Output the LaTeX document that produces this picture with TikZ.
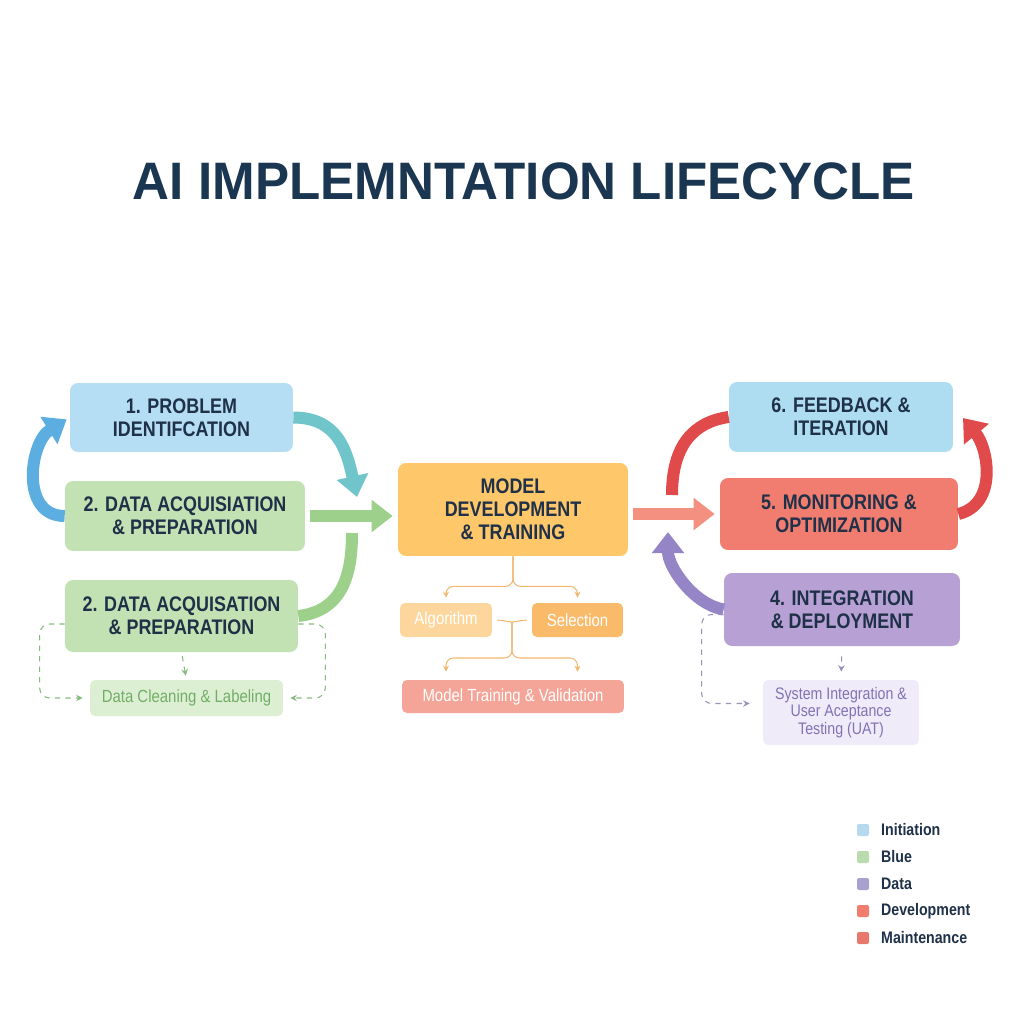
\documentclass[tikz,border=0pt]{standalone}
\usepackage{fontspec}
\setmainfont{Liberation Sans}
\newfontfamily\boxfont{Liberation Sans}[FakeStretch=0.85]
\newfontfamily\titlefont{Liberation Sans}[FakeStretch=0.97]
\usetikzlibrary{arrows.meta,calc}
\definecolor{LifeNavy}{HTML}{1B3651}
\definecolor{LifeText}{HTML}{1F3148}
\definecolor{LifeBlueBox}{HTML}{B5DDF3}
\definecolor{LifeGreenBox}{HTML}{C2E2B3}
\definecolor{LifeGreenSoft}{HTML}{DCEFD3}
\definecolor{LifeGreenText}{HTML}{72AE68}
\definecolor{LifeOrangeBox}{HTML}{FDC76A}
\definecolor{LifeAlgoBox}{HTML}{FCD69C}
\definecolor{LifeSelectBox}{HTML}{F9BA6A}
\definecolor{LifeTrainBox}{HTML}{F5A597}
\definecolor{LifeOrangeLine}{HTML}{F2B870}
\definecolor{LifeFeedbackBox}{HTML}{AEDDF1}
\definecolor{LifeRedBox}{HTML}{F07D70}
\definecolor{LifePurpleBox}{HTML}{B7A0D4}
\definecolor{LifePurpleSoft}{HTML}{EFEBF8}
\definecolor{LifePurpleText}{HTML}{8272B4}
\definecolor{LifeBlueArrow}{HTML}{5CAEE0}
\definecolor{LifeTealArrow}{HTML}{6FC5C9}
\definecolor{LifeGreenArrow}{HTML}{9DD08A}
\definecolor{LifeSalmonArrow}{HTML}{F3907F}
\definecolor{LifeRedArrow}{HTML}{E04A4B}
\definecolor{LifePurpleArrow}{HTML}{9585C7}
\definecolor{LifeGreenDash}{HTML}{88BB80}
\definecolor{LifePurpleDash}{HTML}{9A90B8}
\definecolor{LegInit}{HTML}{B7D9F0}
\definecolor{LegBlue}{HTML}{B9DBAE}
\definecolor{LegData}{HTML}{AAA0D0}
\definecolor{LegDev}{HTML}{F07D6E}
\definecolor{LegMaint}{HTML}{E8786C}

\begin{document}
\begin{tikzpicture}[x=0.02cm, y=-0.02cm,
        stage/.style={rounded corners=1.6mm, align=center, text=LifeText, inner sep=0pt,
                      font=\boxfont\bfseries\fontsize{12}{13}\selectfont},
        detail/.style={rounded corners=1mm, align=center, inner sep=0pt,
                       font=\boxfont\fontsize{10}{11}\selectfont},
        bigarrow/.style={line width=0.24cm, -{Triangle[length=0.42cm,width=0.62cm]}},
        bigline/.style={line width=0.24cm},
        dashflow/.style={dashed, line width=0.6pt, rounded corners=2mm, -{Stealth[length=1.3mm,width=1.3mm]}},
        treelink/.style={LifeOrangeLine, line width=0.6pt, rounded corners=1.5mm, -{Stealth[length=1.2mm,width=1.2mm]}},
        legendbox/.style={minimum size=0.24cm, inner sep=0pt, rounded corners=0.4mm},
        legendlabel/.style={anchor=west, text=LifeText, font=\boxfont\bfseries\fontsize{9.5}{10}\selectfont}
    ]
    \useasboundingbox[fill=white] (0,0) rectangle (1024,1024);

    \node[text=LifeNavy, font=\titlefont\bfseries\fontsize{30}{32}\selectfont] (title) at (524,181) {AI IMPLEMNTATION LIFECYCLE};

    \node[stage, fill=LifeBlueBox, minimum width=4.46cm, minimum height=1.38cm] (problem) at (181.5,417.5) {1. PROBLEM\\IDENTIFCATION};
    \node[stage, fill=LifeGreenBox, minimum width=4.8cm, minimum height=1.4cm] (acquire) at (185,516) {2. DATA ACQUISIATION\\\& PREPARATION};
    \node[stage, fill=LifeGreenBox, minimum width=4.66cm, minimum height=1.44cm] (prepare) at (181.5,616) {2. DATA ACQUISATION\\\& PREPARATION};
    \node[detail, fill=LifeGreenSoft, text=LifeGreenText, minimum width=3.86cm, minimum height=0.72cm] (cleaning) at (186.5,698) {Data Cleaning \& Labeling};

    \node[stage, fill=LifeOrangeBox, minimum width=4.6cm, minimum height=1.86cm] (model) at (513,509.5) {MODEL\\DEVELOPMENT\\\& TRAINING};
    \node[detail, fill=LifeAlgoBox, text=white, minimum width=1.84cm, minimum height=0.68cm] (algorithm) at (446,620) {Algorithm};
    \node[detail, fill=LifeSelectBox, text=white, minimum width=1.82cm, minimum height=0.68cm] (selection) at (577.5,620) {Selection};
    \node[detail, fill=LifeTrainBox, text=white, minimum width=4.44cm, minimum height=0.66cm] (training) at (513,696.5) {Model Training \& Validation};

    \node[stage, fill=LifeFeedbackBox, minimum width=4.48cm, minimum height=1.4cm] (feedback) at (841,417) {6. FEEDBACK \&\\ITERATION};
    \node[stage, fill=LifeRedBox, minimum width=4.76cm, minimum height=1.44cm] (monitor) at (839,514) {5. MONITORING \&\\OPTIMIZATION};
    \node[stage, fill=LifePurpleBox, minimum width=4.72cm, minimum height=1.46cm] (deploy) at (842,609.5) {4. INTEGRATION\\\& DEPLOYMENT};
    \node[detail, fill=LifePurpleSoft, text=LifePurpleText, minimum width=3.12cm, minimum height=1.3cm,
          font=\boxfont\fontsize{9.5}{9.8}\selectfont] (uat) at (841,712.5) {System Integration \&\\User Aceptance\\Testing (UAT)};

    \coordinate (tealtip) at (357,497);
    \coordinate (greenend) at (352,533);
    \coordinate (redstart) at (672,495);
    \coordinate (redtip) at (963,418);
    \coordinate (purpletip) at (668,532);
    \coordinate (hub) at (512,622);

    \draw[bigarrow, LifeBlueArrow, shorten >=2pt] (acquire.west) .. controls +(-45,0) and +(-40,25) .. (problem.west);
    \draw[bigarrow, LifeTealArrow] (problem.east) .. controls +(45,0) and +(-10,-45) .. (tealtip);
    \draw[bigarrow, LifeGreenArrow, shorten <=0.1cm, shorten >=0.1cm] (acquire.east) -- (acquire.east -| model.west);
    \draw[bigline, LifeGreenArrow] (prepare.east) .. controls +(45,-5) and +(0,40) .. (greenend);
    \draw[bigarrow, LifeSalmonArrow, shorten <=0.1cm, shorten >=0.1cm] (model.east |- monitor.west) -- (monitor.west);
    \draw[bigline, LifeRedArrow] (redstart) .. controls +(0,-50) and +(-35,5) .. (feedback.west);
    \draw[bigarrow, LifeRedArrow] (monitor.east) .. controls +(40,-10) and +(25,30) .. (redtip);
    \draw[bigarrow, LifePurpleArrow] (deploy.west) .. controls +(-30,-5) and +(0,35) .. (purpletip);

    \draw[dashflow, LifeGreenDash, shorten >=0.14cm] ([yshift=-0.16cm]prepare.west) -- ++(-25,0) |- (cleaning.west);
    \draw[dashflow, LifeGreenDash, shorten >=0.14cm] ([yshift=-0.16cm]prepare.east) -- ++(27,0) |- (cleaning.east);
    \draw[dashflow, LifeGreenDash, shorten <=0.08cm, shorten >=0.08cm] (prepare.south) -- (cleaning.north);
    \draw[dashflow, LifePurpleDash, shorten >=0.26cm] ([yshift=-0.1cm]deploy.west) -- ++(-22,0) |- ([yshift=0.18cm]uat.west);
    \draw[dashflow, LifePurpleDash, shorten <=0.2cm, shorten >=0.16cm] (deploy.south) -- (uat.north);

    \draw[treelink, shorten >=0.1cm] (model.south) -- ++(0,30) -| (algorithm.north);
    \draw[treelink, shorten >=0.1cm] (model.south) -- ++(0,30) -| (selection.north);
    \draw[LifeOrangeLine, line width=0.6pt] ([xshift=0.1cm]algorithm.east) -- (hub) -- ([xshift=-0.1cm]selection.west);
    \draw[treelink, shorten >=0.16cm] (hub) -- ++(0,36) -| (training.north -| algorithm.north);
    \draw[treelink, shorten >=0.16cm] (hub) -- ++(0,36) -| (training.north -| selection.north);

    \foreach \y/\c/\t in {830/LegInit/Initiation, 857/LegBlue/Blue, 884/LegData/Data, 911/LegDev/Development, 938/LegMaint/Maintenance}{
        \node[legendbox, fill=\c] (key-\t) at (863,\y) {};
        \node[legendlabel] (label-\t) at (875,\y) {\t};
    }
\end{tikzpicture}
\end{document}
